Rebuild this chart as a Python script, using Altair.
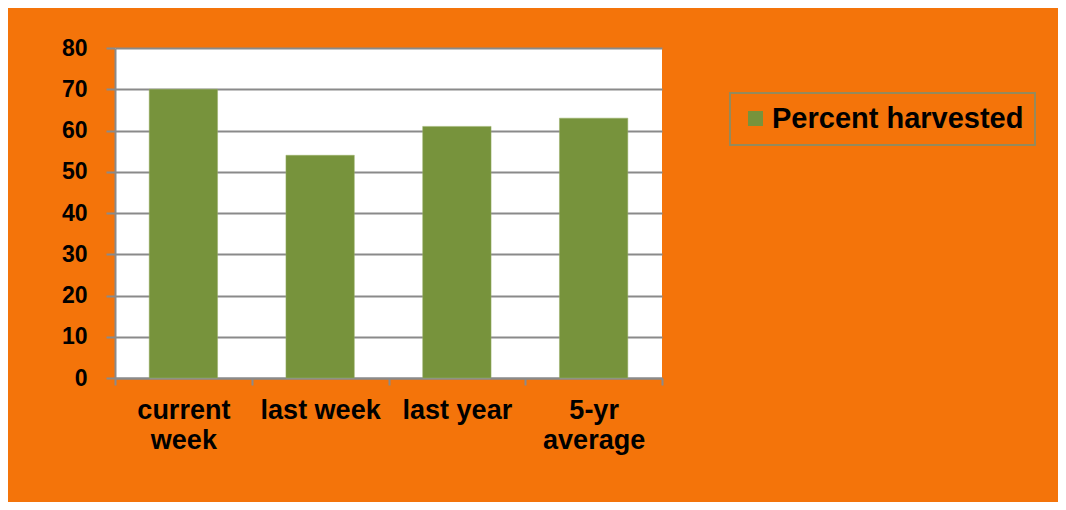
import altair as alt
import pandas as pd

categories = ["current week", "last week", "last year", "5-yr average"]
values = [70, 54, 61, 63]
series = ["Percent harvested"] * 4

df = pd.DataFrame({"category": categories, "value": values, "series": series})

ORANGE = "#F4740A"
GREEN = "#77933C"
FONT = "Liberation Sans"
GRAY = "#8a8a8a"

label_expr = ("datum.label == 'current week' ? ['current', 'week'] : "
              "datum.label == '5-yr average' ? ['5-yr', 'average'] : datum.label")

chart = alt.Chart(df).mark_bar(color=GREEN, stroke="#9bb06a", strokeWidth=0.5,
                               width=alt.RelativeBandSize(0.5)).encode(
    x=alt.X("category:N", sort=categories, title=None,
            scale=alt.Scale(paddingInner=0, paddingOuter=0),
            axis=alt.Axis(labelAngle=0, labelExpr=label_expr, labelFont=FONT,
                          labelFontSize=27, labelFontWeight="bold", labelColor="black",
                          labelPadding=12, labelLineHeight=30, tickBand="extent",
                          tickSize=7, tickColor=GRAY, domainColor=GRAY,
                          domainWidth=2, tickWidth=2, grid=False)),
    y=alt.Y("value:Q", title=None,
            scale=alt.Scale(domain=[0, 80], nice=False),
            axis=alt.Axis(values=list(range(0, 81, 10)), labelFont=FONT,
                          labelFontSize=23, labelFontWeight="bold", labelColor="black",
                          labelPadding=19, tickSize=9, tickColor=GRAY,
                          domainColor=GRAY, domainWidth=2, tickWidth=2,
                          gridColor=GRAY, gridWidth=2)),
    color=alt.Color("series:N", scale=alt.Scale(range=[GREEN]),
                    legend=alt.Legend(title=None, orient="none", legendX=615, legendY=45,
                                      labelFont=FONT, labelFontSize=29,
                                      labelFontWeight="bold", labelColor="black",
                                      symbolType="square", symbolSize=225,
                                      symbolStrokeWidth=0, labelOffset=2,
                                      padding=11,
                                      strokeColor="#948a5c", labelLimit=400)),
).properties(
    width=547, height=330,
    background=ORANGE,
    padding={"left": 107, "top": 40, "right": 396, "bottom": 124},
    autosize=alt.AutoSizeParams(type="none"),
).configure_view(
    fill="white", stroke=None
).configure_legend(
    strokeWidth=2
)

chart.save("out.html", embed_options={"renderer": "svg", "actions": False})
